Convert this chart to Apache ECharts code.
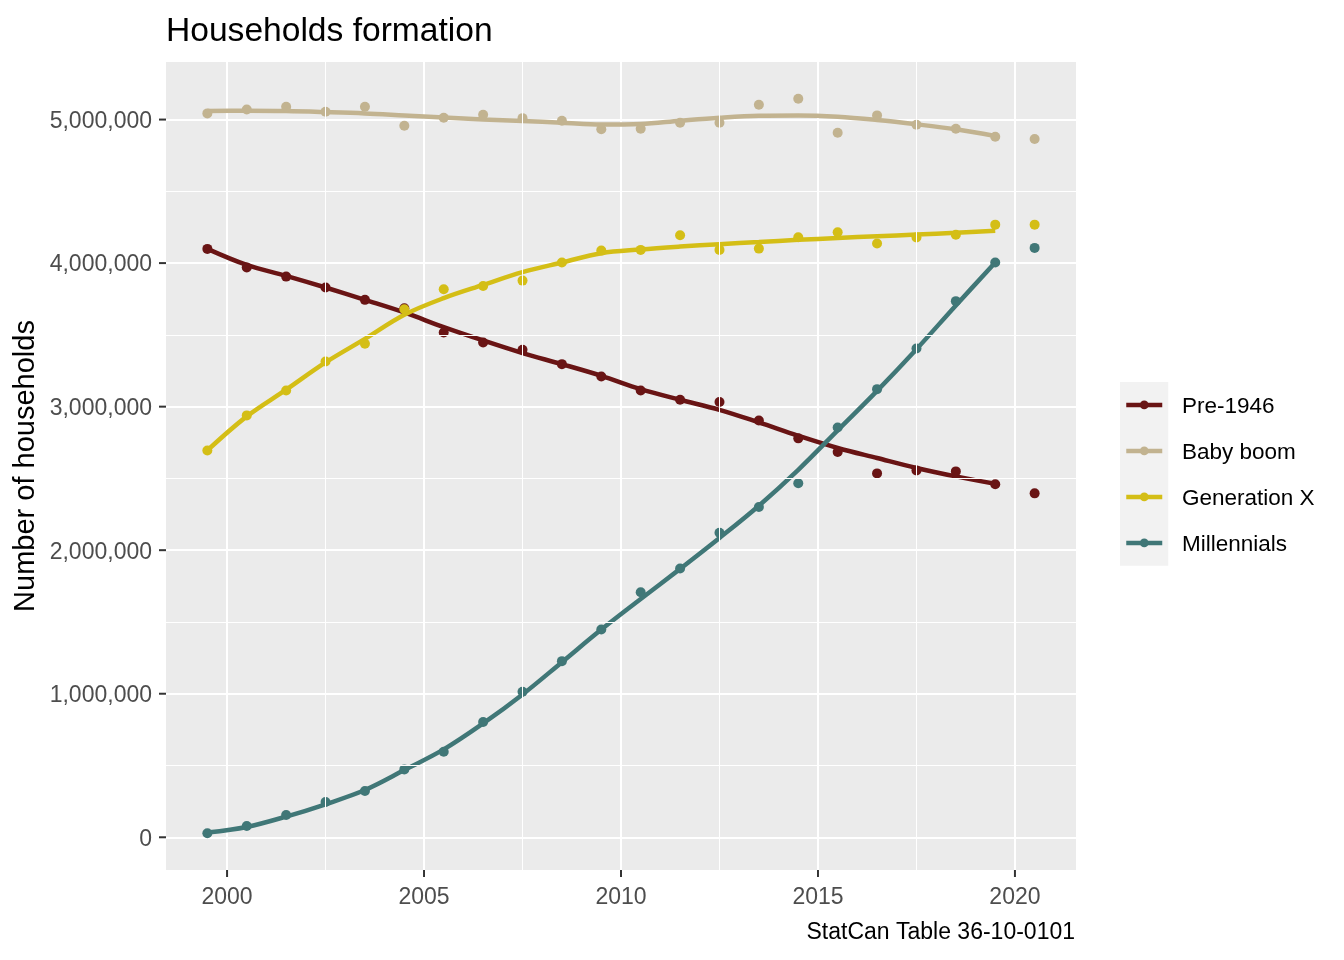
<!DOCTYPE html>
<html><head><meta charset="utf-8">
<script src="https://cdn.jsdelivr.net/npm/echarts@6/dist/echarts.min.js"></script>
<style>html,body{margin:0;padding:0;background:#fff}#c{width:1344px;height:960px}</style>
</head><body><div id="c"></div>
<script>
const FONT = '"Liberation Sans", Arial, sans-serif';
const groups = ['Pre-1946', 'Baby boom', 'Generation X', 'Millennials'];
const colors = ['#691414', '#c2b390', '#d4be16', '#407777'];

// observation dates (mid-year)
const years = [1999.5, 2000.5, 2001.5, 2002.5, 2003.5, 2004.5, 2005.5, 2006.5, 2007.5, 2008.5, 2009.5,
               2010.5, 2011.5, 2012.5, 2013.5, 2014.5, 2015.5, 2016.5, 2017.5, 2018.5, 2019.5, 2020.5];
// smoothed curve positions
const fitYears = [1999.5, 2000.5, 2001.5, 2002.5, 2003.5, 2004.5, 2005.5, 2006.5, 2007.5, 2008.5, 2009.5,
                  2010.5, 2011.5, 2012.5, 2013.5, 2014.5, 2015.5, 2016.5, 2017.5, 2018.5, 2019.5];

const pre1946 = [4099000, 3969000, 3906000, 3830000, 3744000, 3686000, 3516000, 3447000, 3396000, 3296000, 3210000,
                 3113000, 3048000, 3032000, 2904000, 2779000, 2684000, 2535000, 2556000, 2549000, 2459000, 2396000];
const babyBoom = [5043000, 5070000, 5089000, 5054000, 5089000, 4957000, 5013000, 5033000, 5010000, 4992000, 4932000,
                  4936000, 4978000, 4978000, 5103000, 5145000, 4908000, 5029000, 4964000, 4936000, 4880000, 4864000];
const genX = [2695000, 2939000, 3113000, 3315000, 3438000, 3679000, 3818000, 3841000, 3878000, 4004000, 4087000,
              4092000, 4194000, 4092000, 4101000, 4180000, 4215000, 4136000, 4178000, 4198000, 4268000, 4268000];
const millennials = [28000, 79000, 155000, 246000, 322000, 473000, 596000, 803000, 1014000, 1227000, 1447000,
                     1707000, 1872000, 2122000, 2301000, 2466000, 2855000, 3122000, 3405000, 3735000, 4004000, 4106000];

const pre1946Fit = [4099000, 3987000, 3911000, 3830000, 3744000, 3656000, 3554000, 3461000, 3373000, 3296000, 3215000,
                    3122000, 3048000, 2978000, 2890000, 2797000, 2712000, 2642000, 2573000, 2514000, 2463000];
const babyBoomFit = [5059000, 5061000, 5059000, 5052000, 5043000, 5029000, 5015000, 5001000, 4990000, 4978000, 4965000,
                     4969000, 4992000, 5013000, 5027000, 5029000, 5020000, 4997000, 4967000, 4932000, 4885000];
const genXFit = [2695000, 2932000, 3118000, 3308000, 3472000, 3640000, 3756000, 3848000, 3937000, 4004000, 4069000,
                 4095000, 4115000, 4132000, 4147000, 4162000, 4175000, 4187000, 4199000, 4211000, 4225000];
const millennialsFit = [33000, 72000, 144000, 230000, 329000, 468000, 612000, 793000, 995000, 1220000, 1447000,
                        1660000, 1870000, 2085000, 2310000, 2560000, 2835000, 3110000, 3400000, 3705000, 4004000];

const xTicks = [2000, 2005, 2010, 2015, 2020];
const xMinor = [2002.5, 2007.5, 2012.5, 2017.5];
const yTicks = [0, 1000000, 2000000, 3000000, 4000000, 5000000];
const yMinor = [500000, 1500000, 2500000, 3500000, 4500000];

const X_MIN = 1998.45, X_MAX = 2021.55, Y_MIN = -228000, Y_MAX = 5401000;

const points = [pre1946, babyBoom, genX, millennials];
const fits = [pre1946Fit, babyBoomFit, genXFit, millennialsFit];

const series = [];
series.push({
  type: 'line', name: '_grid', data: [], silent: true, z: 1,
  markLine: {
    silent: true, symbol: ['none', 'none'], animation: false,
    label: {show: false},
    lineStyle: {color: '#ffffff', width: 1, type: 'solid'},
    emphasis: {disabled: true},
    data: xMinor.map(v => ({xAxis: v})).concat(yMinor.map(v => ({yAxis: v})))
  }
});
groups.forEach((g, i) => {
  series.push({
    type: 'line', name: g, smooth: 0.35, showSymbol: false, symbol: 'circle', z: 3,
    data: fitYears.map((x, k) => [x, fits[i][k]]),
    lineStyle: {color: colors[i], width: 4.5},
    itemStyle: {color: colors[i]},
    emphasis: {disabled: true}
  });
});
groups.forEach((g, i) => {
  series.push({
    type: 'scatter', name: g, symbol: 'circle', symbolSize: 10, z: 4,
    data: years.map((x, k) => [x, points[i][k]]),
    itemStyle: {color: colors[i], opacity: 1},
    emphasis: {disabled: true}
  });
});
// axis tick marks, placed through the axes' own scales
series.push({
  type: 'custom', name: '_xticks', silent: true, clip: false, z: 5,
  data: xTicks.map(v => [v, Y_MIN]),
  renderItem: function (params, api) {
    const cs = params.coordSys;
    const px = api.coord([api.value(0), api.value(1)])[0];
    const y0 = cs.y + cs.height;
    return {type: 'line', shape: {x1: px, y1: y0, x2: px, y2: y0 + 7},
            style: {stroke: '#333333', lineWidth: 2}};
  }
});
series.push({
  type: 'custom', name: '_yticks', silent: true, clip: false, z: 5,
  data: yTicks.map(v => [X_MIN, v]),
  renderItem: function (params, api) {
    const cs = params.coordSys;
    const py = api.coord([api.value(0), api.value(1)])[1];
    const x0 = cs.x;
    return {type: 'line', shape: {x1: x0 - 7, y1: py, x2: x0, y2: py},
            style: {stroke: '#333333', lineWidth: 2}};
  }
});

const chart = echarts.init(document.getElementById('c'));
chart.setOption({
  animation: false,
  backgroundColor: '#ffffff',
  tooltip: {show: false},
  title: [
    {text: 'Households formation', left: 166, top: 15, padding: 0,
     textStyle: {fontFamily: FONT, fontSize: 33.6, fontWeight: 'normal', color: '#000'}},
    {text: 'StatCan Table 36-10-0101', right: 269, top: 921, padding: 0,
     textStyle: {fontFamily: FONT, fontSize: 23, fontWeight: 'normal', color: '#000'}}
  ],
  grid: {left: 166, right: 268, top: 62, bottom: 90, show: true, backgroundColor: '#ebebeb', borderWidth: 0, containLabel: false},
  legend: [
    {
      data: groups, orient: 'vertical', left: 1120, top: 382, itemWidth: 36, itemHeight: 11, itemGap: 37.2,
      padding: [18.5, 1, 18.5, 4], backgroundColor: '#f2f2f2', selectedMode: false,
      lineStyle: {width: 4.5},
      formatter: function () { return ''; },
      textStyle: {fontSize: 2, lineHeight: 2}
    },
    {
      data: groups, orient: 'vertical', left: 1176, top: 394, itemWidth: 0, itemHeight: 0, itemGap: 20,
      padding: 0, selectedMode: false,
      itemStyle: {opacity: 0}, lineStyle: {opacity: 0},
      textStyle: {fontFamily: FONT, fontSize: 22.5, lineHeight: 26, color: '#000'}
    }
  ],
  xAxis: {
    type: 'value', min: X_MIN, max: X_MAX,
    axisLine: {show: false, onZero: false},
    axisTick: {show: false, customValues: xTicks},
    axisLabel: {customValues: xTicks, color: '#4d4d4d', fontSize: 23, margin: 16, fontFamily: FONT,
                formatter: v => String(v)},
    splitLine: {show: true, lineStyle: {color: '#ffffff', width: 2}}
  },
  yAxis: {
    type: 'value', min: Y_MIN, max: Y_MAX,
    name: 'Number of households', nameLocation: 'middle', nameGap: 126, nameRotate: 90,
    nameMoveOverlap: false,
    nameTextStyle: {fontFamily: FONT, fontSize: 29, color: '#000'},
    axisLine: {show: false, onZero: false},
    axisTick: {show: false, customValues: yTicks},
    axisLabel: {customValues: yTicks, color: '#4d4d4d', fontSize: 23, margin: 14, fontFamily: FONT,
                formatter: v => '{a|' + Number(v).toLocaleString('en-US') + '}',
                rich: {a: {fontFamily: FONT, fontSize: 23, color: '#4d4d4d', padding: [4, 0, 0, 0]}}},
    splitLine: {show: true, lineStyle: {color: '#ffffff', width: 2}}
  },
  series: series
});
</script>
</body></html>
